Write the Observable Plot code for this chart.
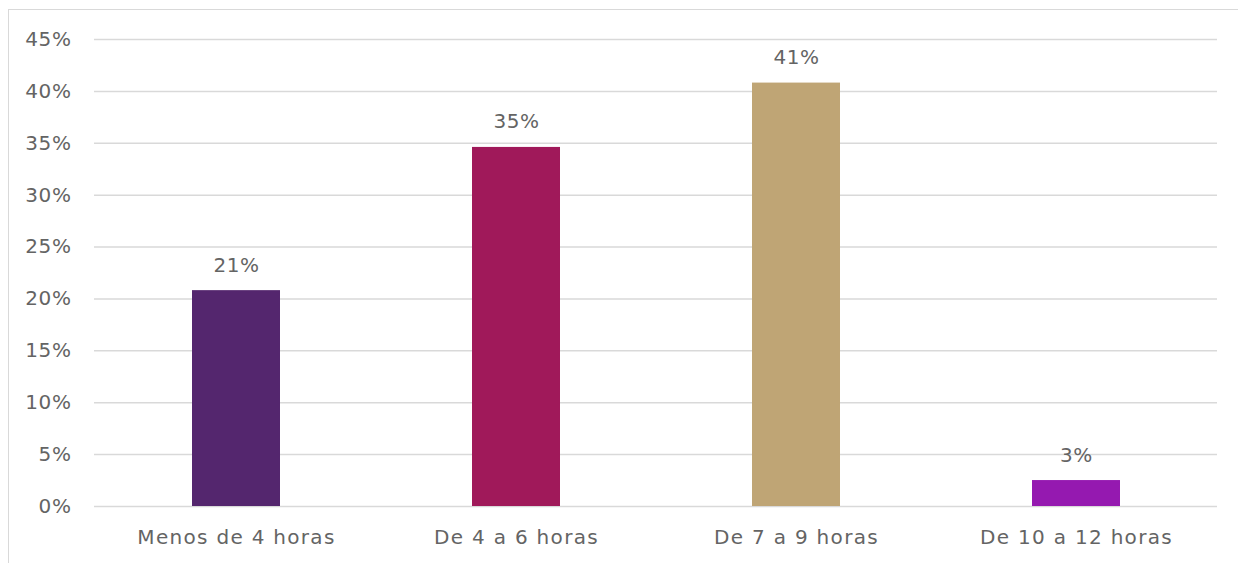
<!DOCTYPE html>
<html>
<head>
<meta charset="utf-8">
<script src="https://cdn.jsdelivr.net/npm/d3@7"></script>
<script src="https://cdn.jsdelivr.net/npm/@observablehq/plot@0.6"></script>
<style>
  html, body { margin: 0; padding: 0; background: #fff; }
  #wrap { position: relative; width: 1238px; height: 563px; overflow: hidden; }
  #frame { position: absolute; left: 8px; top: 9px; width: 1300px; height: 700px;
           border-top: 1.5px solid #d9d9d9; border-left: 1.5px solid #d9d9d9; }
  #chart { position: absolute; left: 0; top: 0; }
  #chart text { letter-spacing: 0.6px; }
  #chart g[aria-label="x-axis tick label"] text { letter-spacing: 1.3px; }
</style>
</head>
<body>
<div id="wrap"><div id="frame"></div><div id="chart"></div></div>
<script>
const categories = ["Menos de 4 horas", "De 4 a 6 horas", "De 7 a 9 horas", "De 10 a 12 horas"];
const values = [0.208, 0.346, 0.408, 0.025];
const valueLabels = ["21%", "35%", "41%", "3%"];
const colors = ["#54266E", "#A0195A", "#BFA575", "#9519B0"];
const yTicks = [0, 0.05, 0.10, 0.15, 0.20, 0.25, 0.30, 0.35, 0.40, 0.45];

const data = categories.map((c, i) => ({cat: c, value: values[i], label: valueLabels[i], color: colors[i]}));

const chart = Plot.plot({
  width: 1238,
  height: 563,
  marginLeft: 94,
  marginRight: 21,
  marginTop: 39,
  marginBottom: 57,
  style: {fontFamily: "'DejaVu Sans', sans-serif", fontSize: "20px", color: "#646464", background: "transparent"},
  x: {domain: categories, paddingInner: 0.687, paddingOuter: 0.3435, label: null},
  y: {domain: [0, 0.45], label: null},
  marks: [
    Plot.ruleY(yTicks, {stroke: "#d9d9d9", strokeWidth: 1.5}),
    Plot.barY(data, {x: "cat", y: "value", fill: "color"}),
    Plot.text(data, {x: "cat", y: "value", text: "label", dy: -19, lineAnchor: "bottom", fill: "#646464", fontSize: 20}),
    Plot.axisY({ticks: yTicks, tickFormat: d => Math.round(d * 100) + "%", tickSize: 0, tickPadding: 23, fontSize: 20, fill: "#646464", label: null}),
    Plot.axisX({tickSize: 0, tickPadding: 23, fontSize: 20, fill: "#646464", label: null})
  ]
});
document.getElementById("chart").appendChild(chart);
</script>
</body>
</html>
